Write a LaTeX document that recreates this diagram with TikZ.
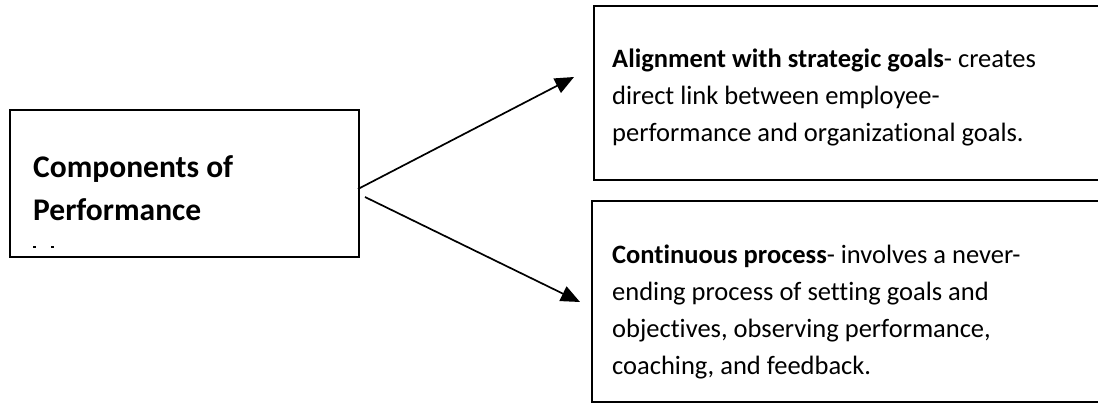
\documentclass[tikz,border=0pt]{standalone}
\usepackage{fontspec}
\setmainfont{Carlito}[Ligatures=NoCommon]
\usetikzlibrary{arrows.meta}
\begin{document}
\begin{tikzpicture}[x=1pt,y=-1pt,
  box/.style={draw, line width=1.8pt, inner sep=0pt, anchor=north west},
  conn/.style={line width=1.7pt, -{Triangle[length=19pt,width=16pt]}},
  lefttxt/.style={anchor=base west, inner sep=0pt, font=\fontsize{31.5}{43}\selectfont\bfseries},
  righttxt/.style={anchor=base west, inner sep=0pt, font=\fontsize{26.5}{37}\selectfont},
  speck/.style={fill=black, minimum width=3pt, minimum height=1.6pt, inner sep=0pt}]
\useasboundingbox (0,0) rectangle (1098,404);
\fill[white] (0,0) rectangle (1098,404);
\clip (0,0) rectangle (1098,404);
% boxes
\node[box, minimum width=349pt, minimum height=147pt] (comp) at (9,109) {};
\node[box, minimum width=540pt, minimum height=174pt] (align) at (593,5) {};
\node[box, minimum width=540pt, minimum height=201pt] (cont) at (591,200) {};
% left text
\node[lefttxt] (c1) at (33,177) {Components of};
\node[lefttxt] (c2) at (33,220) {Performance};
\node[speck] (k1) at (34,247) {};
\node[speck] (k2) at (52,247) {};
% top right text
\node[righttxt] (a1) at (612,67) {\textbf{Alignment with strategic goals}- creates};
\node[righttxt] (a2) at (612,104) {direct link between employee-};
\node[righttxt] (a3) at (612,141) {performance and organizational goals.};
% bottom right text
\node[righttxt] (b1) at (612,263) {\textbf{Continuous process}- involves a never-};
\node[righttxt] (b2) at (612,300) {ending process of setting goals and};
\node[righttxt] (b3) at (612,337) {objectives, observing performance,};
\node[righttxt] (b4) at (612,374) {coaching, and feedback.};
% connectors
\coordinate (s1) at (358,189);
\coordinate (t1) at (574,77);
\coordinate (s2) at (365,197);
\coordinate (t2) at (580,302);
\draw[conn] (s1) -- (t1);
\draw[conn] (s2) -- (t2);
\end{tikzpicture}
\end{document}
